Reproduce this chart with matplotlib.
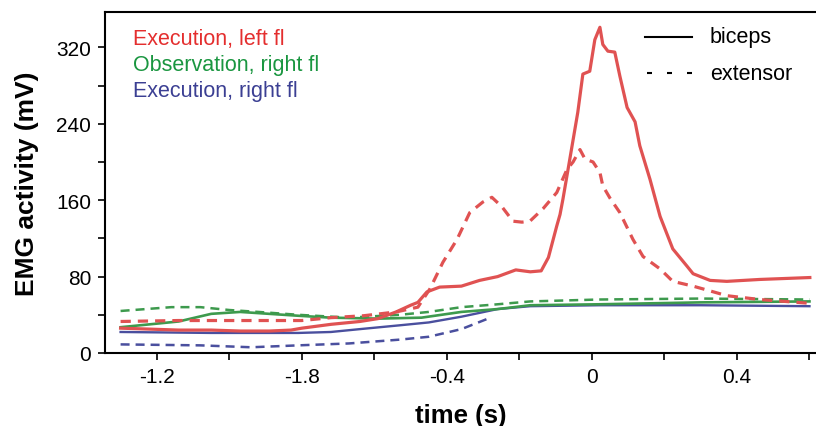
import matplotlib
matplotlib.use("Agg")
import matplotlib.pyplot as plt
from matplotlib.lines import Line2D

plt.rcParams['font.family'] = ['Liberation Sans', 'DejaVu Sans']

# ---- data (time in s, EMG in mV) ----
red_solid_t = [-1.30, -1.22, -1.14, -1.05, -0.97, -0.89, -0.83, -0.80, -0.72, -0.64, -0.59, -0.54,
               -0.50, -0.48, -0.455, -0.42, -0.36, -0.31, -0.26, -0.21, -0.17, -0.14, -0.12, -0.097, -0.088,
               -0.080, -0.061, -0.039, -0.025, -0.006, 0.008, 0.022, 0.030, 0.044, 0.063, 0.077,
               0.097, 0.119, 0.132, 0.160, 0.188, 0.223, 0.262, 0.279, 0.326, 0.372, 0.463, 0.601]
red_solid_v = [26, 25, 24, 24, 23, 23, 24, 26, 30, 33, 36, 43,
               50, 53, 64, 69, 70, 76, 80, 87, 85, 86, 100, 133, 145,
               161, 203, 252, 292, 295, 328, 341, 323, 316, 315, 290,
               257, 242, 217, 182, 143, 109, 91, 83, 76, 75, 77, 79]

red_dash_t = [-1.30, -1.14, -0.97, -0.80, -0.72, -0.63, -0.54, -0.48, -0.447, -0.411, -0.372, -0.337,
              -0.301, -0.276, -0.248, -0.218, -0.193, -0.171, -0.135, -0.097, -0.069, -0.052, -0.033,
              -0.019, 0.003, 0.022, 0.030, 0.050, 0.077, 0.113, 0.141, 0.188, 0.223, 0.279, 0.326,
              0.372, 0.463, 0.601]
red_dash_v = [33, 34, 34, 34, 37, 39, 43, 48, 67, 95, 119, 147,
              158, 163, 153, 138, 137, 138, 151, 168, 192, 200, 213,
              203, 200, 189, 175, 162, 147, 119, 101, 88, 75, 70, 65,
              60, 56, 52]

green_solid_t = [-1.30, -1.14, -1.05, -0.97, -0.89, -0.81, -0.72, -0.59, -0.47, -0.36, -0.26, -0.17,
                 0.02, 0.30, 0.60]
green_solid_v = [27, 33, 41, 43, 41, 39, 37, 36, 37, 43, 46, 50, 51, 53, 54]

green_dash_t = [-1.30, -1.16, -1.08, -1.00, -0.92, -0.81, -0.67, -0.53, -0.45, -0.36, -0.26, -0.17,
                0.02, 0.30, 0.60]
green_dash_v = [44, 48, 48, 45, 43, 40, 37, 40, 43, 48, 51, 54, 56, 57, 56]

blue_solid_t = [-1.30, -1.05, -0.81, -0.72, -0.64, -0.53, -0.45, -0.36, -0.26, -0.17, 0.02, 0.30, 0.60]
blue_solid_v = [22, 21, 21, 22, 25, 29, 32, 38, 46, 49, 50, 50, 49]

blue_dash_t = [-1.30, -1.08, -0.94, -0.81, -0.67, -0.53, -0.45, -0.36, -0.28]
blue_dash_v = [9, 8, 6, 8, 10, 14, 17, 25, 37]

x_ticks = [-1.2, -1.0, -0.8, -0.6, -0.4, -0.2, 0.0, 0.2, 0.4, 0.6]
x_tick_labels = ["-1.2", "", "-1.8", "", "-0.4", "", "0", "", "0.4", ""]
y_ticks = [0, 80, 160, 240, 320]
y_minor = [40, 120, 200, 280]

labels = ["Execution, left fl", "Observation, right fl", "Execution, right fl"]
text_colors = ["#e42e2e", "#1a9640", "#3b3f93"]

RED, GREEN, BLUE = "#e05252", "#3d9a4d", "#4a4f9e"

fig = plt.figure(figsize=(8.16, 4.27), dpi=100)
ax = fig.add_axes([105/816, 73/427, 711/816, 341/427])

dash = (0, (3.6, 2.4))
ax.plot(green_dash_t, green_dash_v, color=GREEN, lw=1.8, linestyle=dash)
ax.plot(blue_dash_t, blue_dash_v, color=BLUE, lw=1.8, linestyle=dash)
ax.plot(blue_solid_t, blue_solid_v, color=BLUE, lw=1.7)
ax.plot(green_solid_t, green_solid_v, color=GREEN, lw=1.9)
ax.plot(red_dash_t, red_dash_v, color=RED, lw=2.3, linestyle=(0, (3.2, 2.2)))
ax.plot(red_solid_t, red_solid_v, color=RED, lw=2.3)

ax.set_xlim(-1.343, 0.618)
ax.set_ylim(0, 357)

ax.set_xticks(x_ticks)
ax.set_xticklabels(x_tick_labels)
ax.set_yticks(y_ticks)
ax.set_yticks(y_minor, minor=True)
ax.tick_params(axis='both', which='both', direction='out', length=5, width=1.2,
               labelsize=15, pad=5)
for s in ['left', 'bottom', 'top']:
    ax.spines[s].set_linewidth(1.5)
ax.spines['right'].set_visible(False)

ax.set_xlabel("time (s)", fontsize=18.5, fontweight='bold', labelpad=12)
ax.set_ylabel("EMG activity (mV)", fontsize=19, fontweight='bold', labelpad=12)

for i, (lab, c) in enumerate(zip(labels, text_colors)):
    fig.text(133/816, 1 - (40 + i * 25.5) / 427, lab, color=c, fontsize=15.5,
             va='center', ha='left')

# line-style key
ax.add_line(Line2D([645/816, 692/816], [1 - 38/427, 1 - 38/427], transform=fig.transFigure,
                   color='black', lw=1.5))
ax.add_line(Line2D([647/816, 692/816], [1 - 74/427, 1 - 74/427], transform=fig.transFigure,
                   color='black', lw=1.5, linestyle=(0, (2.4, 7.2))))
fig.text(710/816, 1 - 38/427, "biceps", fontsize=15.5, va='center', ha='left')
fig.text(710/816, 1 - 74/427, "extensor", fontsize=15.5, va='center', ha='left')

fig.savefig("out.png", dpi=100)
